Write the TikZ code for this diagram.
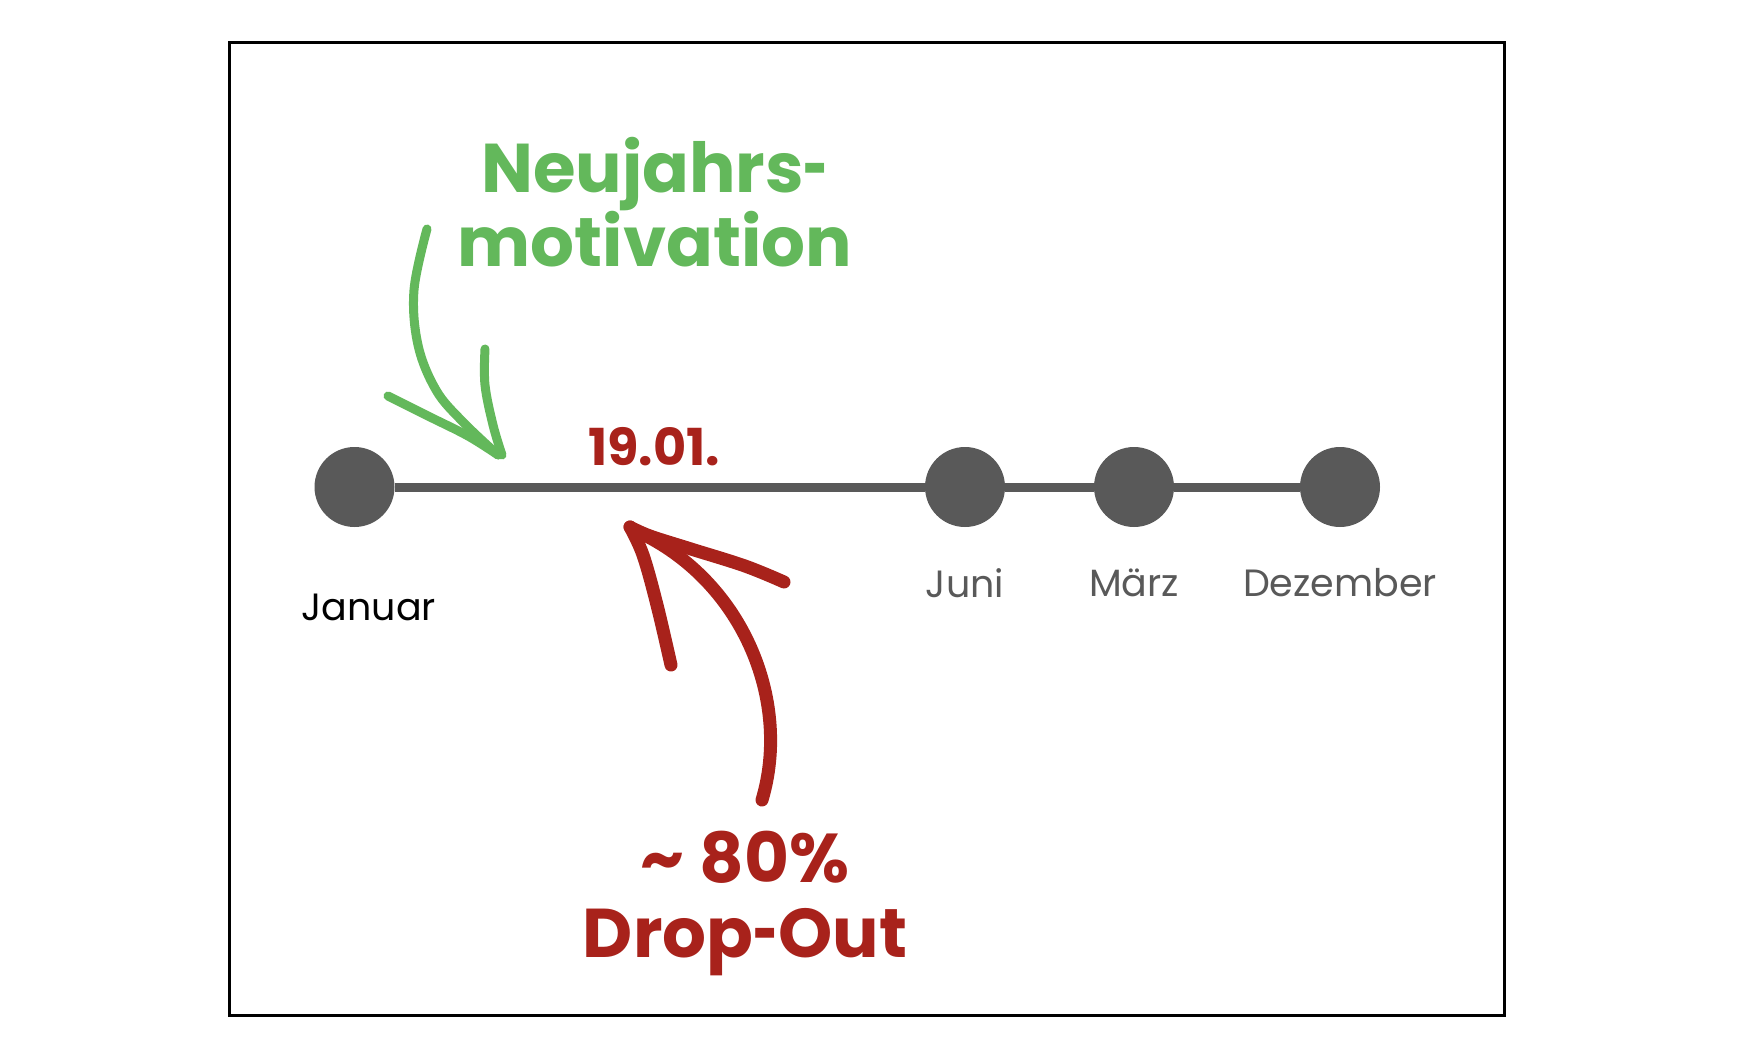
\documentclass[tikz,border=0pt]{standalone}
\usepackage{fontspec}
\usepackage{graphicx}
\setmainfont{Poppins}
\definecolor{tlgray}{HTML}{595959}
\definecolor{mgreen}{HTML}{63B85B}
\definecolor{dred}{HTML}{A8221B}
\newcommand{\shy}{\scalebox{0.62}[1]{-}}
\newcommand{\tightls}{\lineskiplimit=-200pt\relax}
\begin{document}
\begin{tikzpicture}[x=1pt,y=-1pt,
  dot/.style={circle,fill=tlgray,minimum size=80pt,inner sep=0pt},
  month/.style={text=tlgray,font=\fontsize{38}{44}\selectfont},
  tl/.style={draw=tlgray,line width=9pt},
  garrow/.style={draw=mgreen,line width=9pt,line cap=round,line join=round},
  rarrow/.style={draw=dred,line width=13pt,line cap=round,line join=round}]
\useasboundingbox (0,0) rectangle (1748,1056);
\node[draw=black,line width=3pt,minimum width=1275pt,minimum height=972pt,inner sep=0pt] (frame) at (866.5,529) {};
% timeline
\node[dot] (jan) at (354.5,487) {};
\node[dot] (jun) at (965,487) {};
\node[dot] (mar) at (1134,487) {};
\node[dot] (dez) at (1340,487) {};
\draw[tl] (jan) -- (jun);
\draw[tl] (jun) -- (mar);
\draw[tl] (mar) -- (dez);
\node[month,text=black] (ljan) at (369,607) {Januar};
\node[month] (ljun) at (965,583) {Juni};
\node[month] (lmar) at (1134,583) {März};
\node[month] (ldez) at (1340,583) {Dezember};
% labels
\node[text=mgreen,align=center,font=\bfseries\fontsize{69}{74}\selectfont\tightls] (neu) at (655,202) {Neujahrs\shy\\motivation};
\node[text=dred,font=\bfseries\fontsize{51}{60}\selectfont] (date) at (654,447) {19.01.};
\node[text=dred,align=center,font=\bfseries\fontsize{69}{75}\selectfont\tightls] (drop) at (745,903) {\char`~\ 80\%\\Drop\shy Out};
% green arrow
\draw[garrow] plot[smooth,tension=0.6] coordinates {(427,229) (414,290) (418,345) (436,390) (462,421) (498,455)};
\draw[garrow] plot[smooth,tension=0.6] coordinates {(388,396) (428,416) (468,436) (498,455)};
\draw[garrow] plot[smooth,tension=0.6] coordinates {(485,349) (485,385) (493,425) (502,455)};
% red arrow
\draw[rarrow] (762,800) .. controls (792,700) and (742,578) .. (634,530);
\draw[rarrow] plot[smooth,tension=0.6] coordinates {(630,527) (643,555) (657,605) (671,665)};
\draw[rarrow] plot[smooth,tension=0.6] coordinates {(630,527) (650,536) (691,549) (745,566) (784,582)};
\end{tikzpicture}
\end{document}
